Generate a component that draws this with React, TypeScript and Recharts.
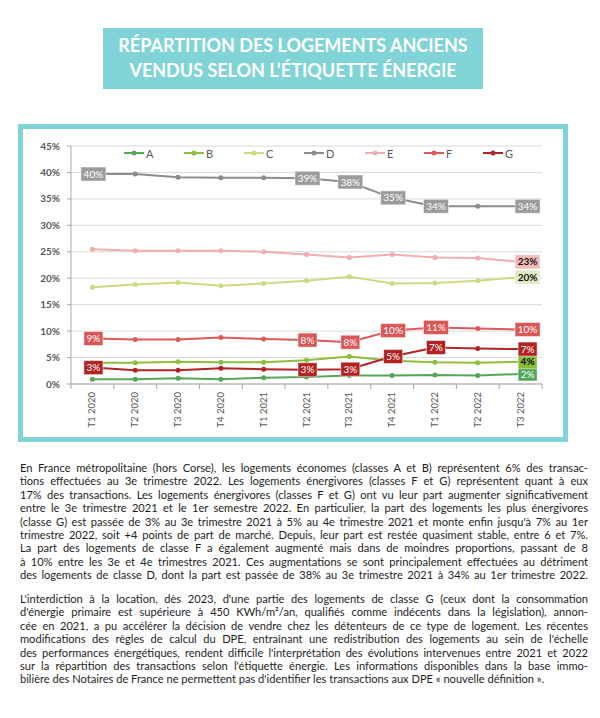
import React from 'react';
import { LineChart, Line, XAxis, YAxis, CartesianGrid, LabelList } from 'recharts';

const quarters = [
  'T1 2020', 'T2 2020', 'T3 2020', 'T4 2020',
  'T1 2021', 'T2 2021', 'T3 2021', 'T4 2021',
  'T1 2022', 'T2 2022', 'T3 2022',
];
const classA = [0.9, 0.9, 1.1, 0.9, 1.2, 1.3, 1.6, 1.6, 1.7, 1.6, 1.9];
const classB = [4.0, 4.0, 4.2, 4.1, 4.1, 4.5, 5.2, 4.4, 4.1, 4.0, 4.2];
const classC = [18.3, 18.8, 19.2, 18.6, 19.0, 19.5, 20.3, 19.0, 19.1, 19.5, 20.2];
const classD = [39.7, 39.7, 39.1, 39.0, 39.0, 38.9, 38.2, 35.2, 33.6, 33.6, 33.6];
const classE = [25.5, 25.2, 25.2, 25.2, 25.0, 24.5, 23.9, 24.5, 23.9, 23.8, 23.1];
const classF = [8.6, 8.4, 8.4, 8.8, 8.5, 8.3, 7.9, 10.1, 10.7, 10.5, 10.3];
const classG = [3.1, 2.6, 2.6, 3.0, 2.8, 2.7, 2.8, 5.2, 6.9, 6.7, 6.6];
const yTicks = [0, 5, 10, 15, 20, 25, 30, 35, 40, 45];

const data = quarters.map((q, i) => ({
  q,
  A: classA[i],
  B: classB[i],
  C: classC[i],
  D: classD[i],
  E: classE[i],
  F: classF[i],
  G: classG[i],
}));

// order = drawing order (later on top)
const series = [
  { key: 'A', color: '#55a657', box: '#4fa653', text: '#fff', labels: [10] },
  { key: 'B', color: '#8dbf3d', box: '#8cbd3a', text: '#111', labels: [10] },
  { key: 'C', color: '#c9dc80', box: '#e0eac2', text: '#111', labels: [10] },
  { key: 'D', color: '#8c8c8c', box: '#9b9b9b', text: '#fff', labels: [0, 5, 6, 7, 8, 10] },
  { key: 'E', color: '#f0aeae', box: '#f4b8b8', text: '#111', labels: [10] },
  { key: 'F', color: '#df5a5a', box: '#dc5656', text: '#fff', labels: [0, 5, 6, 7, 8, 10] },
  { key: 'G', color: '#b32424', box: '#b22222', text: '#fff', labels: [0, 5, 6, 7, 8, 10] },
];

const CYAN = '#80d4d7';
const PLOT_W = 471;
const BAND = PLOT_W / quarters.length;

const paragraph1 = [
  'En France métropolitaine (hors Corse), les logements économes (classes A et B) représentent 6% des transac-',
  'tions effectuées au 3e trimestre 2022. Les logements énergivores (classes F et G) représentent quant à eux',
  '17% des transactions. Les logements énergivores (classes F et G) ont vu leur part augmenter significativement',
  'entre le 3e trimestre 2021 et le 1er semestre 2022. En particulier, la part des logements les plus énergivores',
  "(classe G) est passée de 3% au 3e trimestre 2021 à 5% au 4e trimestre 2021 et monte enfin jusqu'à 7% au 1er",
  'trimestre 2022, soit +4 points de part de marché. Depuis, leur part est restée quasiment stable, entre 6 et 7%.',
  'La part des logements de classe F a également augmenté mais dans de moindres proportions, passant de 8',
  'à 10% entre les 3e et 4e trimestres 2021. Ces augmentations se sont principalement effectuées au détriment',
  'des logements de classe D, dont la part est passée de 38% au 3e trimestre 2021 à 34% au 1er trimestre 2022.',
];

const paragraph2 = [
  "L'interdiction à la location, dès 2023, d'une partie des logements de classe G (ceux dont la consommation",
  "d'énergie primaire est supérieure à 450 KWh/m²/an, qualifiés comme indécents dans la législation), annon-",
  'cée en 2021, a pu accélérer la décision de vendre chez les détenteurs de ce type de logement. Les récentes',
  "modifications des règles de calcul du DPE, entraînant une redistribution des logements au sein de l'échelle",
  "des performances énergétiques, rendent difficile l'interprétation des évolutions intervenues entre 2021 et 2022",
  "sur la répartition des transactions selon l'étiquette énergie. Les informations disponibles dans la base immo-",
  "bilière des Notaires de France ne permettent pas d'identifier les transactions aux DPE « nouvelle définition ».",
];

const makeLabel = (s: any) => (props: any) => {
  const { x, y, value, index } = props;
  if (!s.labels.includes(index)) return null;
  const txt = `${Math.round(Number(value))}%`;
  const w = txt.length * 6 + 7;
  const h = 14;
  const cx = index === quarters.length - 1 ? x + 7 : x + 1;
  return (
    <g>
      <rect x={cx - w / 2} y={y - h / 2} width={w} height={h} fill={s.box} stroke="#fff" strokeOpacity={0.5} />
      <text
        x={cx}
        y={y + 3.6}
        textAnchor="middle"
        fontSize={10}
        fontWeight={s.text === '#fff' ? 400 : 700}
        fill={s.text}
        fontFamily="Lato, sans-serif"
      >
        {txt}
      </text>
    </g>
  );
};

const QuarterTick = (props: any) => {
  const { x, y, payload, index } = props;
  const axisY = y - 8;
  const left = x - BAND / 2;
  return (
    <g>
      <line x1={left} y1={axisY} x2={left} y2={axisY + 5} stroke="#a6a6a6" />
      {index === quarters.length - 1 && (
        <line x1={x + BAND / 2} y1={axisY} x2={x + BAND / 2} y2={axisY + 5} stroke="#a6a6a6" />
      )}
      <text
        transform={`translate(${x + 3},${y}) rotate(-90)`}
        textAnchor="end"
        fontSize={9.5}
        fill="#595959"
        fontFamily="Lato, sans-serif"
      >
        {payload.value}
      </text>
    </g>
  );
};

function LegendRow() {
  const starts = [124, 184, 244, 304, 365, 424, 483];
  return (
    <>
      {series.map((s, i) => (
        <div
          key={s.key}
          style={{
            position: 'absolute',
            left: starts[i],
            top: 146,
            height: 14,
            display: 'flex',
            alignItems: 'center',
            fontSize: 11,
            color: '#595959',
            fontFamily: 'Lato, sans-serif',
          }}
        >
          <svg width={20} height={6} style={{ marginRight: 2 }}>
            <line x1={0} y1={3} x2={20} y2={3} stroke={s.color} strokeWidth={2} />
            <circle cx={10} cy={3} r={2.5} fill={s.color} />
          </svg>
          {s.key}
        </div>
      ))}
    </>
  );
}

function TextLines({ lines, top, lastLeft }: { lines: string[]; top: number; lastLeft?: boolean }) {
  return (
    <div style={{ position: 'absolute', left: 20, top, width: 568 }}>
      {lines.map((l, i) => {
        const left = lastLeft && i === lines.length - 1;
        return (
          <div
            key={i}
            style={{
              whiteSpace: 'nowrap',
              textAlign: left ? 'left' : 'justify',
              textAlignLast: left ? 'left' : 'justify',
              lineHeight: '13.4px',
              height: 13.4,
            }}
          >
            {l}
          </div>
        );
      })}
    </div>
  );
}

export default function App() {
  return (
    <div
      style={{
        position: 'absolute',
        left: 0,
        top: 0,
        width: 600,
        height: 718,
        background: '#fff',
        fontFamily: 'Lato, sans-serif',
        color: '#1e1e1e',
        fontSize: 11.1,
        overflow: 'hidden',
      }}
    >
      <div
        style={{
          position: 'absolute',
          left: 103,
          top: 28,
          width: 380,
          height: 61,
          background: CYAN,
          color: '#fff',
          fontWeight: 700,
          fontSize: 18,
          lineHeight: '25px',
          textAlign: 'center',
          paddingTop: 5,
          boxSizing: 'border-box',
        }}
      >
        RÉPARTITION DES LOGEMENTS ANCIENS
        <br />
        VENDUS SELON L’ÉTIQUETTE ÉNERGIE
      </div>

      <div
        style={{
          position: 'absolute',
          left: 18,
          top: 124,
          width: 550,
          height: 318,
          border: `5px solid ${CYAN}`,
          boxSizing: 'border-box',
        }}
      />

      <div style={{ position: 'absolute', left: 22, top: 128 }}>
        <LineChart
          width={540}
          height={310}
          data={data}
          margin={{ top: 18, right: 20, left: 9, bottom: 4 }}
        >
          <CartesianGrid vertical={false} stroke="#d9d9d9" />
          <XAxis
            dataKey="q"
            interval={0}
            height={50}
            tickSize={5}
            tickMargin={3}
            tickLine={false}
            padding={{ left: BAND / 2, right: BAND / 2 }}
            axisLine={{ stroke: '#a6a6a6' }}
            tick={<QuarterTick />}
          />
          <YAxis
            domain={[0, 45]}
            ticks={yTicks}
            width={40}
            tickSize={4}
            tickMargin={7}
            tickFormatter={(v) => `${v}%`}
            tick={{ fontSize: 10, fill: '#595959', fontWeight: 700, fontFamily: 'Lato, sans-serif' }}
            tickLine={{ stroke: '#a6a6a6' }}
            axisLine={{ stroke: '#a6a6a6' }}
            allowDataOverflow
          />
          {series.map((s) => (
            <Line
              key={s.key}
              type="linear"
              dataKey={s.key}
              stroke={s.color}
              strokeWidth={2}
              dot={{ r: 2.5, fill: s.color, stroke: s.color, strokeWidth: 0 }}
              isAnimationActive={false}
            >
              <LabelList dataKey={s.key} content={makeLabel(s)} />
            </Line>
          ))}
        </LineChart>
      </div>

      <LegendRow />

      <TextLines lines={paragraph1} top={461} />
      <TextLines lines={paragraph2} top={592} lastLeft />
    </div>
  );
}
